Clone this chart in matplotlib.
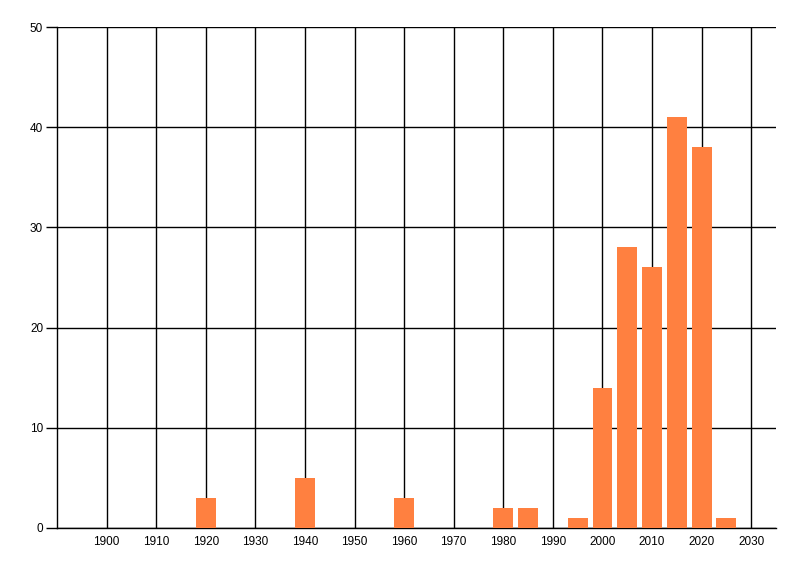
import matplotlib
matplotlib.use("Agg")
import matplotlib.pyplot as plt

# Données
annees = [1920, 1940, 1960, 1980, 1985, 1995, 2000, 2005, 2010, 2015, 2020, 2025]
nombres = [3, 5, 3, 2, 2, 1, 14, 28, 26, 41, 38, 1]
xticks = list(range(1900, 2031, 10))
yticks = [0, 10, 20, 30, 40, 50]

plt.rcParams['font.family'] = ['Liberation Sans', 'DejaVu Sans']

fig = plt.figure(figsize=(8, 5.76), dpi=100)
ax = fig.add_axes([57/800, 1-528/576, (776-57)/800, (528-27)/576])

ax.bar(annees, nombres, width=4, color='#FF8040', zorder=3)

ax.set_xlim(1890, 2035)
ax.set_ylim(0, 50)
ax.set_xticks(xticks)
ax.set_yticks(yticks)
ax.grid(True, color='black', linewidth=1, zorder=0)
ax.set_axisbelow(True)

for s in ['top', 'right']:
    ax.spines[s].set_visible(False)
ax.spines['left'].set_linewidth(1)
ax.spines['bottom'].set_linewidth(1)

ax.tick_params(axis='x', length=0, pad=6, labelsize=8.5)
ax.tick_params(axis='y', length=8, width=1, pad=2, labelsize=8.5)

fig.savefig('out.png', dpi=100)
